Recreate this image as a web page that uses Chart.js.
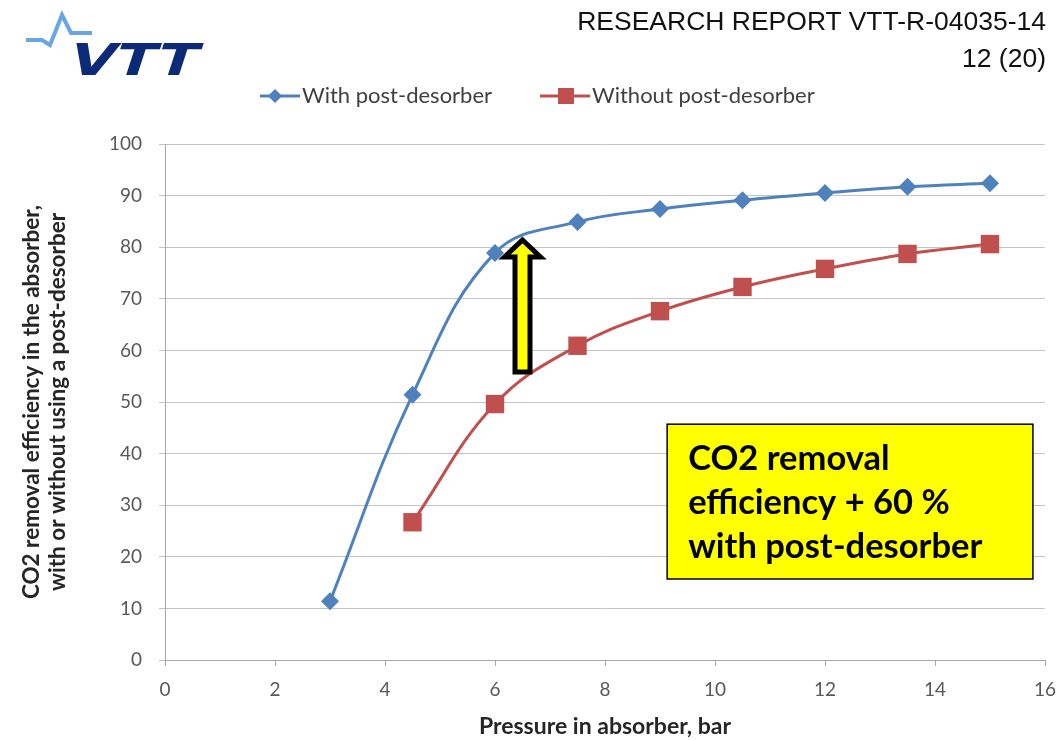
<!DOCTYPE html>
<html>
<head>
<meta charset="utf-8">
<script src="https://cdn.jsdelivr.net/npm/chart.js@4.4.1/dist/chart.umd.min.js"></script>
<style>
  html, body { margin: 0; padding: 0; background: #fff; }
  #wrap { position: relative; width: 1063px; height: 740px; overflow: hidden; }
  #chart { position: absolute; left: 0; top: 0; }
  .hdr { position: absolute; right: 17px; font-family: "Liberation Sans", Arial, sans-serif; font-size: 26.5px; color: #111; white-space: nowrap; line-height: 1; }
  #logo { position: absolute; left: 0; top: 0; }
</style>
</head>
<body>
<div id="wrap">
  <canvas id="chart" width="1063" height="740"></canvas>
  <svg id="logo" width="230" height="90">
    <polyline points="26,40 42,40 50,45 62,15 71,33 92,33" fill="none" stroke="#6aa6e4" stroke-width="4" stroke-linejoin="miter"/>
    <text x="66" y="75" font-family="DejaVu Sans" font-weight="bold" font-size="44" fill="#0b2a78"
          transform="skewX(-18) translate(24,0)" textLength="128" lengthAdjust="spacingAndGlyphs">VTT</text>
  </svg>
  <div class="hdr" style="top:8px">RESEARCH REPORT VTT-R-04035-14</div>
  <div class="hdr" style="top:45px">12 (20)</div>
</div>
<script>
// pressure (bar) and CO2 removal efficiency (%)
const pressureWith = [3, 4.5, 6, 7.5, 9, 10.5, 12, 13.5, 15];
const efficiencyWith = [11.4, 51.4, 78.9, 84.9, 87.4, 89.1, 90.5, 91.7, 92.4];
const pressureWithout = [4.5, 6, 7.5, 9, 10.5, 12, 13.5, 15];
const efficiencyWithout = [26.7, 49.6, 60.9, 67.6, 72.3, 75.8, 78.7, 80.6];
const xTicks = [0, 2, 4, 6, 8, 10, 12, 14, 16];
const yTicks = [0, 10, 20, 30, 40, 50, 60, 70, 80, 90, 100];
const seriesNames = ["With post-desorber", "Without post-desorber"];
const noteLines = ["CO2 removal", "efficiency + 60 %", "with post-desorber"];

const BLUE = "#4f81bd";
const RED = "#c0504d";
const FONT = "Lato";

function pts(xs, ys) {
  return xs.map((x, i) => ({ x: x, y: ys[i] }));
}

// legend, arrow and text box
const extras = {
  id: "extras",
  afterDatasetsDraw(chart) {
    const ctx = chart.ctx;
    const xs = chart.scales.x, ys = chart.scales.y;

    // arrow from the lower curve up to the upper curve
    const ax = xs.getPixelForValue(6.5);
    const yTip = ys.getPixelForValue(81.4);
    const yBase = ys.getPixelForValue(55.8);
    const sw = 7.5, hw = 18, hh = 17;
    ctx.save();
    ctx.beginPath();
    ctx.moveTo(ax, yTip);
    ctx.lineTo(ax + hw, yTip + hh);
    ctx.lineTo(ax + sw, yTip + hh);
    ctx.lineTo(ax + sw, yBase);
    ctx.lineTo(ax - sw, yBase);
    ctx.lineTo(ax - sw, yTip + hh);
    ctx.lineTo(ax - hw, yTip + hh);
    ctx.closePath();
    ctx.fillStyle = "#ffff00";
    ctx.fill();
    ctx.lineWidth = 5;
    ctx.lineJoin = "miter";
    ctx.strokeStyle = "#000";
    ctx.stroke();
    ctx.restore();

    // yellow note box
    const bx1 = xs.getPixelForValue(9.13), bx2 = xs.getPixelForValue(15.78);
    const by1 = ys.getPixelForValue(45.7), by2 = ys.getPixelForValue(15.7);
    ctx.save();
    ctx.fillStyle = "#ffff00";
    ctx.fillRect(bx1, by1, bx2 - bx1, by2 - by1);
    ctx.lineWidth = 1.5;
    ctx.strokeStyle = "#000";
    ctx.strokeRect(bx1, by1, bx2 - bx1, by2 - by1);
    ctx.fillStyle = "#000";
    ctx.font = "bold 34.5px " + FONT;
    ctx.textBaseline = "alphabetic";
    noteLines.forEach((t, i) => ctx.fillText(t, bx1 + 21, by1 + 46 + i * 44));
    ctx.restore();
  },
  afterDraw(chart) {
    const ctx = chart.ctx;
    ctx.save();
    ctx.font = "22px " + FONT;
    ctx.textBaseline = "middle";
    const ly = 96;
    // blue entry
    ctx.strokeStyle = BLUE; ctx.lineWidth = 3;
    ctx.beginPath(); ctx.moveTo(260, ly); ctx.lineTo(300, ly); ctx.stroke();
    ctx.fillStyle = BLUE;
    ctx.beginPath();
    ctx.moveTo(275, ly - 7); ctx.lineTo(282, ly); ctx.lineTo(275, ly + 7); ctx.lineTo(268, ly);
    ctx.closePath(); ctx.fill();
    ctx.fillStyle = "#404040";
    ctx.fillText(seriesNames[0], 302, ly);
    // red entry
    ctx.strokeStyle = RED;
    ctx.beginPath(); ctx.moveTo(540, ly); ctx.lineTo(590, ly); ctx.stroke();
    ctx.fillStyle = RED;
    ctx.fillRect(558, ly - 8, 16, 16);
    ctx.fillStyle = "#404040";
    ctx.fillText(seriesNames[1], 592, ly);
    ctx.restore();
  }
};

new Chart(document.getElementById("chart"), {
  type: "line",
  data: {
    datasets: [{
      label: seriesNames[0],
      data: pts(pressureWith, efficiencyWith),
      borderColor: BLUE,
      backgroundColor: BLUE,
      borderWidth: 3,
      tension: 0.4,
      pointStyle: "rectRot",
      pointRadius: 9,
      pointBorderWidth: 0
    }, {
      label: seriesNames[1],
      data: pts(pressureWithout, efficiencyWithout),
      borderColor: RED,
      backgroundColor: RED,
      borderWidth: 3,
      tension: 0.4,
      pointStyle: "rect",
      pointRadius: 13,
      pointBorderWidth: 0
    }]
  },
  options: {
    responsive: false,
    animation: false,
    layout: { padding: { top: 144, right: 18, left: 0, bottom: 0 } },
    plugins: { legend: { display: false }, tooltip: { enabled: false } },
    scales: {
      x: {
        type: "linear",
        min: 0, max: 16,
        afterBuildTicks: s => { s.ticks = xTicks.map(v => ({ value: v })); },
        afterFit: s => { s.height = 80; s.paddingLeft = 0; s.paddingRight = 0; },
        ticks: { color: "#595959", font: { family: FONT, size: 19 }, padding: 12, maxRotation: 0 },
        grid: { drawOnChartArea: false, tickLength: 6, color: "#a6a6a6" },
        border: { color: "#a6a6a6" },
        title: {
          display: true, text: "Pressure in absorber, bar", color: "#262626",
          font: { family: FONT, size: 23, weight: "bold", lineHeight: 1.2 }, padding: { top: 0, bottom: 0 }
        }
      },
      y: {
        min: 0, max: 100,
        afterBuildTicks: s => { s.ticks = yTicks.map(v => ({ value: v })); },
        afterFit: s => { s.width = 165; },
        ticks: { color: "#595959", font: { family: FONT, size: 19 }, padding: 17 },
        grid: { color: "#c4c4c4", tickLength: 6 },
        border: { color: "#a6a6a6" },
        title: {
          display: true,
          text: ["CO2 removal efficiency in the absorber,", "with or without using a post-desorber"],
          color: "#262626",
          font: { family: FONT, size: 22.5, weight: "bold", lineHeight: 1.16 },
          padding: { top: 19, bottom: 0 }
        }
      }
    }
  },
  plugins: [extras]
});
</script>
</body>
</html>
